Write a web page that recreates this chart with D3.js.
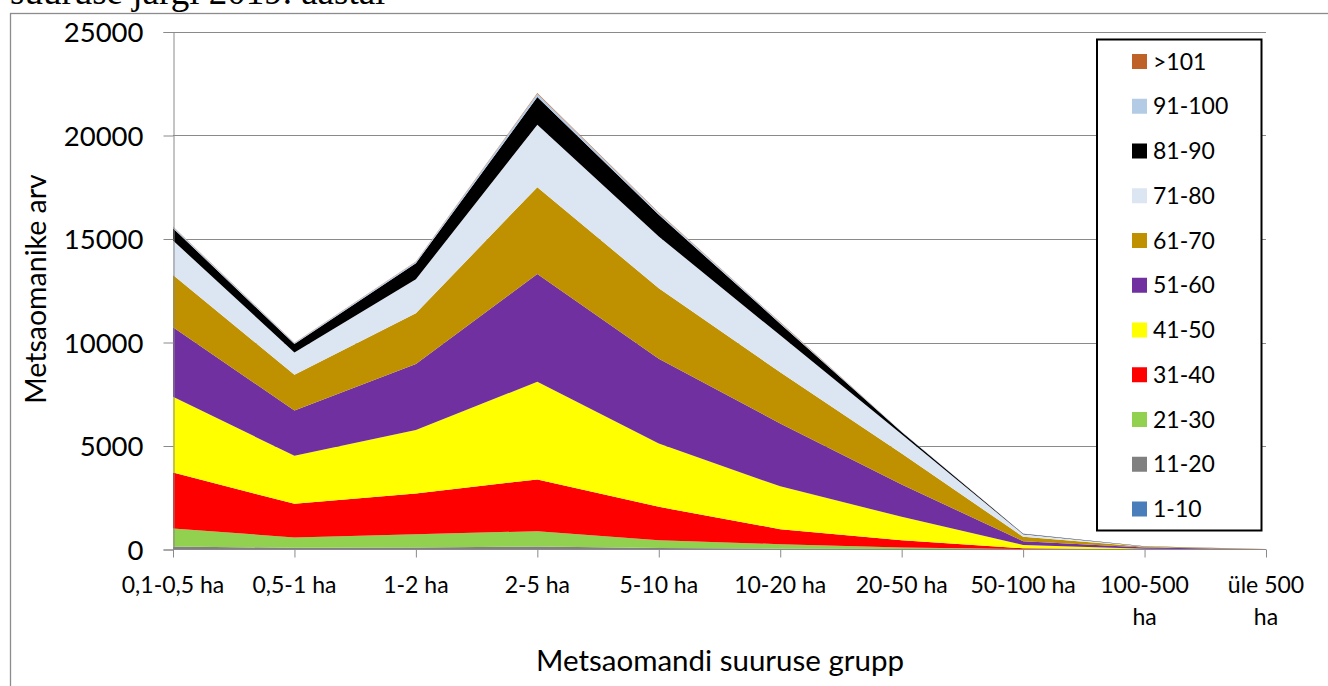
<!DOCTYPE html>
<html>
<head>
<meta charset="utf-8">
<script src="https://cdn.jsdelivr.net/npm/d3@7"></script>
<style>
  html, body { margin: 0; padding: 0; background: #ffffff; }
  svg { display: block; }
</style>
</head>
<body>
<svg id="chart" width="1328" height="686"></svg>
<script>
// ---- data ----
const categories = ["0,1-0,5 ha", "0,5-1 ha", "1-2 ha", "2-5 ha", "5-10 ha", "10-20 ha", "20-50 ha", "50-100 ha", "100-500 ha", "üle 500 ha"];
const seriesNames = ["1-10", "11-20", "21-30", "31-40", "41-50", "51-60", "61-70", "71-80", "81-90", "91-100", ">101"];
const s1_10   = [30, 20, 20, 30, 15, 10, 5, 2, 0, 0];
const s11_20  = [120, 60, 80, 120, 55, 30, 15, 5, 1, 0];
const s21_30  = [870, 500, 640, 735, 380, 215, 80, 15, 3, 0];
const s31_40  = [2700, 1625, 1965, 2500, 1610, 725, 350, 40, 8, 1];
const s41_50  = [3660, 2320, 3065, 4720, 3065, 2070, 1130, 160, 30, 3];
const s51_60  = [3355, 2190, 3190, 5205, 4095, 3035, 1560, 180, 50, 5];
const s61_70  = [2530, 1725, 2450, 4195, 3400, 2475, 1495, 210, 35, 5];
const s71_80  = [1660, 1080, 1645, 3015, 2500, 1785, 935, 130, 20, 3];
const s81_90  = [595, 405, 775, 1340, 1050, 565, 110, 20, 5, 1];
const s91_100 = [70, 55, 65, 160, 90, 60, 20, 5, 1, 0];
const s101    = [15, 10, 15, 30, 20, 15, 5, 5, 2, 2];
const seriesValues = [s1_10, s11_20, s21_30, s31_40, s41_50, s51_60, s61_70, s71_80, s81_90, s91_100, s101];
const seriesColors = ["#4A7EBB", "#808080", "#92D050", "#FF0000", "#FFFF00", "#7030A0", "#BF9000", "#DCE6F2", "#000000", "#B4CBE6", "#BE6228"];
const yTicks = [0, 5000, 10000, 15000, 20000, 25000];
const titleText = "suuruse järgi 2019. aastal";
const yTitle = "Metsaomanike arv";
const xTitle = "Metsaomandi suuruse grupp";

// ---- table for d3.stack ----
const table = categories.map((c, i) => {
  const row = { cat: c };
  seriesNames.forEach((s, j) => { row[s] = seriesValues[j][i]; });
  return row;
});

const svg = d3.select("#chart");
const FONT = "Lato, 'Open Sans', sans-serif";
const GRID = "#8a8a8a";

// chart border
svg.append("rect").attr("x", 10.5).attr("y", 13.5).attr("width", 1400).attr("height", 700)
  .attr("fill", "none").attr("stroke", "#8c8c8c").attr("stroke-width", 1.3);

// title text (cut off at the top edge, as in the reference)
svg.append("text").attr("x", 10).attr("y", 4)
  .attr("font-family", "'Liberation Serif', 'Times New Roman', serif")
  .attr("font-size", 37).attr("fill", "#000").text(titleText);

const x = d3.scalePoint().domain(categories).range([173, 1266]);
const y = d3.scaleLinear().domain([0, 25000]).range([549.5, 32]);

// gridlines
svg.append("g").selectAll("line").data(yTicks.filter(t => t > 0)).join("line")
  .attr("x1", 173).attr("x2", 1266)
  .attr("y1", d => Math.round(y(d)) + 0.5).attr("y2", d => Math.round(y(d)) + 0.5)
  .attr("stroke", GRID).attr("stroke-width", 1);

// stacked areas
const stack = d3.stack().keys(seriesNames);
const layers = stack(table);
const area = d3.area()
  .x(d => x(d.data.cat))
  .y0(d => y(d[0]))
  .y1(d => y(d[1]));
svg.append("g").selectAll("path").data(layers).join("path")
  .attr("d", area)
  .attr("fill", (d, i) => seriesColors[i]);

// y axis
const yAxis = d3.axisLeft(y).tickValues(yTicks).tickSize(10).tickPadding(20).tickFormat(d3.format("d"));
const gy = svg.append("g").attr("transform", "translate(173.5,0)").call(yAxis);
gy.select(".domain").attr("stroke", GRID);
gy.selectAll(".tick line").attr("stroke", GRID);
gy.selectAll(".tick text").attr("font-family", FONT).attr("font-size", 27.5).attr("fill", "#000")
  .attr("dy", "0.36em");

// x axis
const xAxis = d3.axisBottom(x).tickSize(8).tickFormat("");
const gx = svg.append("g").attr("transform", "translate(0,549.5)").call(xAxis);
gx.select(".domain").attr("stroke", GRID).attr("d", "M173,0H1266");
gx.selectAll(".tick line").attr("stroke", GRID);

// x labels (with wrapping like the reference)
const labelLines = {
  "100-500 ha": ["100-500", "ha"],
  "üle 500 ha": ["üle 500", "ha"]
};
const xl = svg.append("g");
categories.forEach(c => {
  const lines = labelLines[c] || [c];
  lines.forEach((ln, k) => {
    xl.append("text").attr("x", x(c)).attr("y", 593 + k * 32)
      .attr("text-anchor", "middle").attr("font-family", FONT).attr("font-size", 23)
      .attr("fill", "#000").text(ln);
  });
});

// axis titles
svg.append("text").attr("transform", "translate(46,289) rotate(-90)")
  .attr("text-anchor", "middle").attr("font-family", FONT).attr("font-size", 28.5)
  .attr("fill", "#000").text(yTitle);
svg.append("text").attr("x", 720).attr("y", 671)
  .attr("text-anchor", "middle").attr("font-family", FONT).attr("font-size", 29.5)
  .attr("fill", "#000").text(xTitle);

// legend
const lg = svg.append("g");
lg.append("rect").attr("x", 1097).attr("y", 39.5).attr("width", 164.5).attr("height", 491)
  .attr("fill", "#fff").attr("stroke", "#000").attr("stroke-width", 2);
const legendOrder = seriesNames.slice().reverse();
const ly = d3.scalePoint().domain(legendOrder).range([61.5, 509]);
legendOrder.forEach(s => {
  const idx = seriesNames.indexOf(s);
  lg.append("rect").attr("x", 1132).attr("y", ly(s) - 7.5).attr("width", 15).attr("height", 15)
    .attr("fill", seriesColors[idx]);
  lg.append("text").attr("x", 1153).attr("y", ly(s) + 8)
    .attr("font-family", FONT).attr("font-size", 23).attr("fill", "#000").text(s);
});
</script>
</body>
</html>
